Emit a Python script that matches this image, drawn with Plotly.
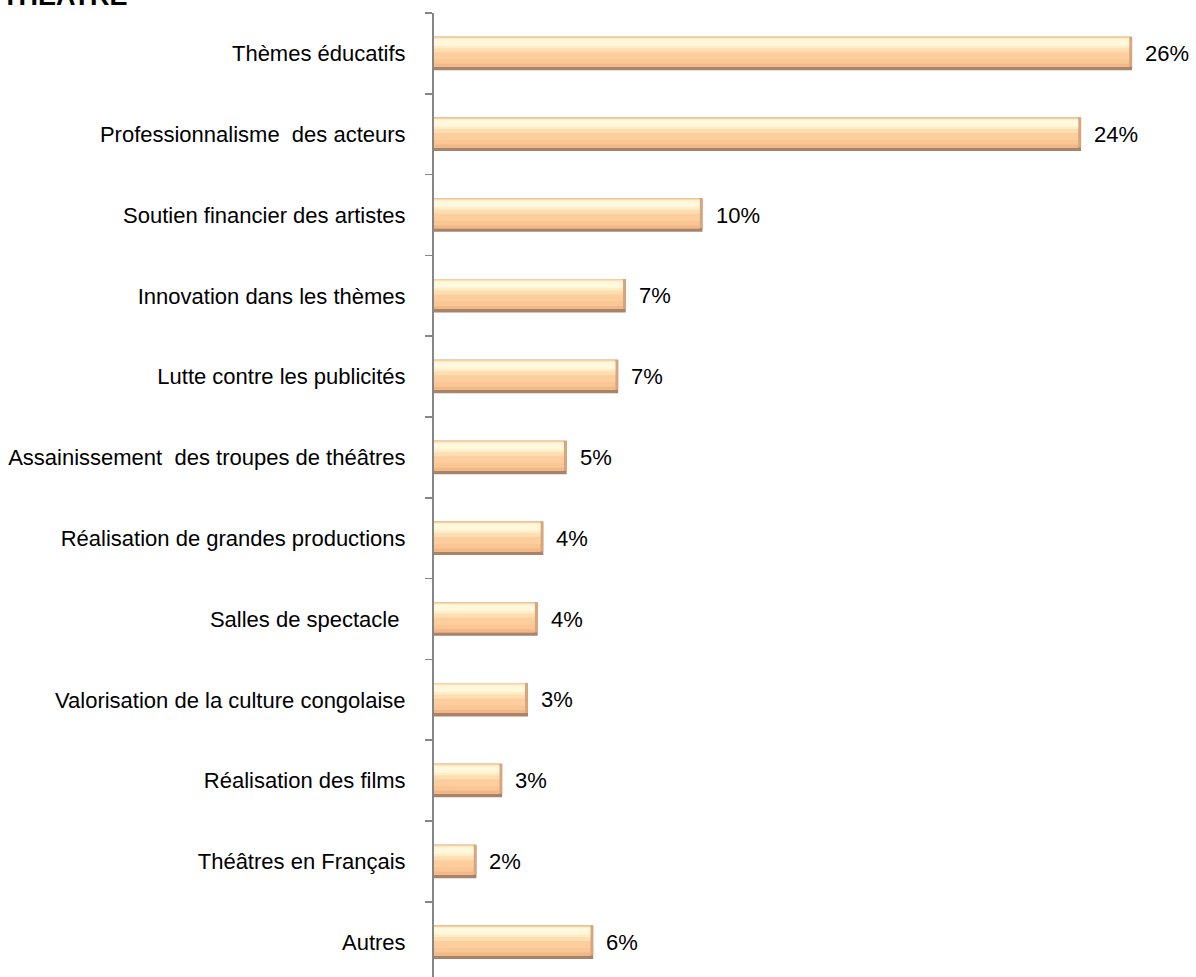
import plotly.graph_objects as go

categories = [
    "Thèmes éducatifs",
    "Professionnalisme  des acteurs",
    "Soutien financier des artistes",
    "Innovation dans les thèmes",
    "Lutte contre les publicités",
    "Assainissement  des troupes de théâtres",
    "Réalisation de grandes productions",
    "Salles de spectacle ",
    "Valorisation de la culture congolaise",
    "Réalisation des films",
    "Théâtres en Français",
    "Autres",
]
values = [26.0, 24.1, 10.0, 7.14, 6.86, 4.94, 4.07, 3.86, 3.50, 2.54, 1.58, 5.93]
value_labels = ["26%", "24%", "10%", "7%", "7%", "5%", "4%", "4%", "3%", "3%", "2%", "6%"]
title_text = "THEATRE"

FONT = "Liberation Sans, Arial, sans-serif"

PX_PER_UNIT_Y = 80.8   # pixels per category
BAR_PX = 33.5
unit = 1.0 / PX_PER_UNIT_Y
half = BAR_PX / 2 * unit

fig = go.Figure()

def layer(xvals, top_px, h_px, color):
    fig.add_trace(go.Bar(
        y=categories, x=xvals, orientation="h",
        offset=-half + top_px * unit, width=h_px * unit,
        marker=dict(color=color, line=dict(width=0)),
        hoverinfo="skip", showlegend=False,
    ))

# base (bottom shadow) and right bevel edge, full length
layer(values, 0, BAR_PX, "#A8836A")
layer(values, 0, 30.0, "#D9A57B")
# inner gradient, shortened a bit to reveal right bevel
inner = [v - 3.0 / 26.85 for v in values]
layer(inner, 0, 30.0, "#F3D2A6")
layer(inner, 1.5, 28.5, "#FAC693")
layer(inner, 1.5, 21.0, "#FCCE9E")
layer(inner, 1.5, 14.0, "#FEDDB0")
layer(inner, 1.5, 10.0, "#FFEDC6")
layer(inner, 2.5, 6.5, "#FFF8DC")
layer(inner, 27.0, 3.0, "#F0B887")

for c, v, t in zip(categories, values, value_labels):
    fig.add_annotation(
        x=v, y=c, xref="x", yref="y", text=t, showarrow=False,
        xanchor="left", yanchor="middle", xshift=11,
        font=dict(family=FONT, size=22, color="#000000"),
    )

W, H = 1196, 977
ML, MT = 434, 13
plot_w = W - ML
plot_h = H - MT
fig.add_annotation(
    x=-ML / plot_w, y=1 + (MT - 13) / plot_h, xref="paper", yref="paper",
    text="<b>" + title_text + "</b>", showarrow=False,
    xanchor="left", yanchor="bottom",
    font=dict(family=FONT, size=27, color="#000000"),
)

fig.update_layout(
    width=W, height=H,
    margin=dict(l=ML, r=0, t=MT, b=0, pad=0, autoexpand=False),
    paper_bgcolor="white", plot_bgcolor="white",
    barmode="overlay",
    showlegend=False,
    xaxis=dict(range=[0, plot_w / 26.85], visible=False, fixedrange=True, automargin=False),
    yaxis=dict(
        type="category", categoryorder="array", categoryarray=categories,
        range=[-0.5 + plot_h / PX_PER_UNIT_Y, -0.5],
        automargin=False, fixedrange=True,
        showline=True, linecolor="#868686", linewidth=2,
        ticks="outside", tickson="boundaries", ticklen=7, tickwidth=1.5, tickcolor="#868686",
        showgrid=False, zeroline=False,
        tickfont=dict(family=FONT, size=22, color="#000000"),
        ticklabelstandoff=22,
    ),
)

fig.write_html(
    "out.html",
    config={"displayModeBar": False, "staticPlot": True},
    post_script="document.body.style.margin='0';document.body.style.overflow='hidden';",
)
